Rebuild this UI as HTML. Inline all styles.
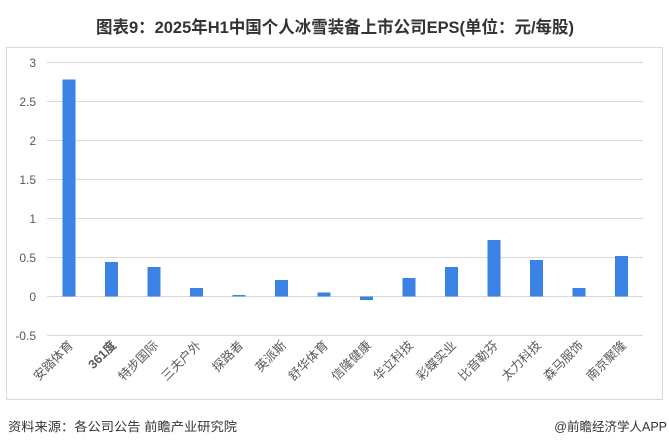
<!DOCTYPE html>
<html><head><meta charset="utf-8"><style>
html,body{margin:0;padding:0;background:#fff;}
svg{display:block;font-family:"Liberation Sans","Noto Sans CJK SC",sans-serif;}
</style></head><body>
<svg width="669" height="446" viewBox="0 0 669 446" xmlns="http://www.w3.org/2000/svg">
<text x="335" y="33" text-anchor="middle" font-size="17" font-weight="bold" fill="#333" textLength="478" lengthAdjust="spacingAndGlyphs">图表9：2025年H1中国个人冰雪装备上市公司EPS(单位：元/每股)</text>
<rect x="6.5" y="47.5" width="656" height="352" fill="#fff" stroke="#d9d9d9"/>
<g stroke="#d9d9d9" stroke-width="1">
<line x1="47" x2="643" y1="62.5" y2="62.5"/>
<line x1="47" x2="643" y1="101.5" y2="101.5"/>
<line x1="47" x2="643" y1="140.5" y2="140.5"/>
<line x1="47" x2="643" y1="179.5" y2="179.5"/>
<line x1="47" x2="643" y1="218.5" y2="218.5"/>
<line x1="47" x2="643" y1="257.5" y2="257.5"/>
<line x1="47" x2="643" y1="296.5" y2="296.5"/>
<line x1="47" x2="643" y1="335.5" y2="335.5"/>
</g>
<g font-size="12" fill="#595959" text-anchor="end">
<text x="36" y="67">3</text><text x="36" y="106">2.5</text><text x="36" y="145">2</text>
<text x="36" y="184">1.5</text><text x="36" y="223">1</text><text x="36" y="262">0.5</text>
<text x="36" y="301">0</text><text x="36" y="340">-0.5</text>
</g>
<g fill="#3a82e4">
<rect x="62.5" y="79.5" width="13" height="217"/>
<rect x="105" y="262" width="13" height="34.5"/>
<rect x="147.5" y="267" width="13" height="29.5"/>
<rect x="190" y="288" width="13" height="8.5"/>
<rect x="232.5" y="295" width="13" height="1.5"/>
<rect x="275" y="280" width="13" height="16.5"/>
<rect x="317.5" y="292.5" width="13" height="4"/>
<rect x="360" y="296.5" width="13" height="3.5"/>
<rect x="402.5" y="278" width="13" height="18.5"/>
<rect x="445" y="267" width="13" height="29.5"/>
<rect x="487.5" y="240" width="13" height="56.5"/>
<rect x="530" y="260" width="13" height="36.5"/>
<rect x="572.5" y="288" width="13" height="8.5"/>
<rect x="615" y="256" width="13" height="40.5"/>
</g>
<g font-size="12.5" fill="#595959" text-anchor="end">
<text transform="translate(74,346) rotate(-45)">安踏体育</text>
<text transform="translate(117,346) rotate(-45)" font-weight="bold">361度</text>
<text transform="translate(159,346) rotate(-45)">特步国际</text>
<text transform="translate(202,346) rotate(-45)">三夫户外</text>
<text transform="translate(244,346) rotate(-45)">探路者</text>
<text transform="translate(287,346) rotate(-45)">英派斯</text>
<text transform="translate(329,346) rotate(-45)">舒华体育</text>
<text transform="translate(372,346) rotate(-45)">信隆健康</text>
<text transform="translate(414,346) rotate(-45)">华立科技</text>
<text transform="translate(457,346) rotate(-45)">彩蝶实业</text>
<text transform="translate(499,346) rotate(-45)">比音勒芬</text>
<text transform="translate(542,346) rotate(-45)">太力科技</text>
<text transform="translate(584,346) rotate(-45)">森马服饰</text>
<text transform="translate(627,346) rotate(-45)">南京聚隆</text>
</g>
<text x="8" y="431" font-size="12.5" fill="#333" textLength="229" lengthAdjust="spacingAndGlyphs">资料来源：各公司公告 前瞻产业研究院</text>
<text x="667" y="431" font-size="12.5" fill="#333" text-anchor="end">@前瞻经济学人APP</text>
</svg>
</body></html>
